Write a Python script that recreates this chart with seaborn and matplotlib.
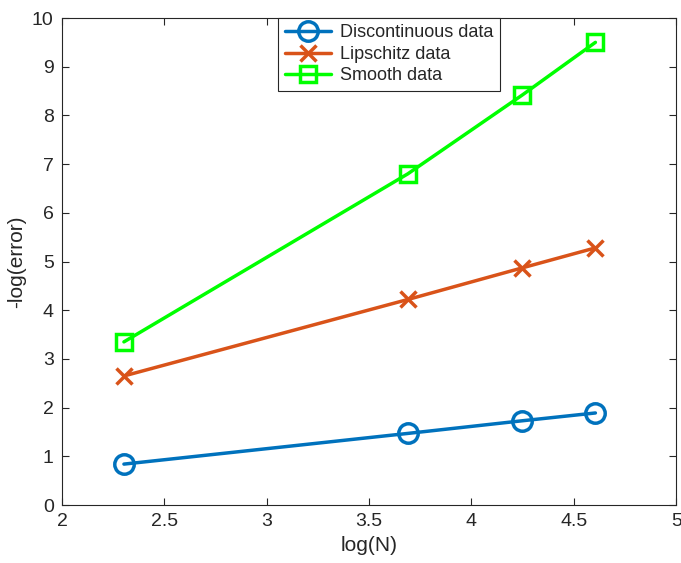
import numpy as np
import pandas as pd
import seaborn as sns
import matplotlib.pyplot as plt

log_n = [2.3026, 3.6889, 4.2485, 4.6052]
discontinuous = [0.84, 1.47, 1.73, 1.89]
lipschitz = [2.65, 4.22, 4.87, 5.28]
smooth = [3.35, 6.80, 8.42, 9.50]

series = {
    "Discontinuous data": (discontinuous, "#0072BD", "o", 14),
    "Lipschitz data": (lipschitz, "#D95319", "x", 11),
    "Smooth data": (smooth, "#00FF00", "s", 11),
}

sns.set_style("ticks")
plt.rcParams["font.family"] = ["Liberation Sans", "DejaVu Sans"]

fig = plt.figure(figsize=(6.81, 5.63), dpi=100)
ax = fig.add_axes([0.091, 0.103, 0.902, 0.865])

for name, (vals, color, mk, ms) in series.items():
    df = pd.DataFrame({"x": log_n, "y": vals})
    sns.lineplot(data=df, x="x", y="y", ax=ax, color=color, linewidth=2.5,
                 marker=mk, markersize=ms, markerfacecolor="none",
                 markeredgecolor=color, markeredgewidth=2.5, label=name)

ax.set_xlim(2, 5)
ax.set_ylim(0, 10)
ax.set_xticks([2, 2.5, 3, 3.5, 4, 4.5, 5])
ax.set_xticklabels(["2", "2.5", "3", "3.5", "4", "4.5", "5"])
ax.set_yticks(range(0, 11))
ax.tick_params(direction="in", top=True, right=True, labelsize=14, length=5,
               width=0.8, pad=6)
for s in ax.spines.values():
    s.set_linewidth(0.8)
    s.set_color("#262626")
ax.set_xlabel("log(N)", fontsize=15)
ax.set_ylabel("-log(error)", fontsize=15)

leg = ax.legend(loc="upper left", bbox_to_anchor=(0.352, 1.0), borderaxespad=0,
                fontsize=13, fancybox=False, framealpha=1, edgecolor="#262626",
                handlelength=2.6, labelspacing=0.25, borderpad=0.35,
                handletextpad=0.5)
leg.get_frame().set_linewidth(0.8)

fig.savefig("out.png", dpi=100)
